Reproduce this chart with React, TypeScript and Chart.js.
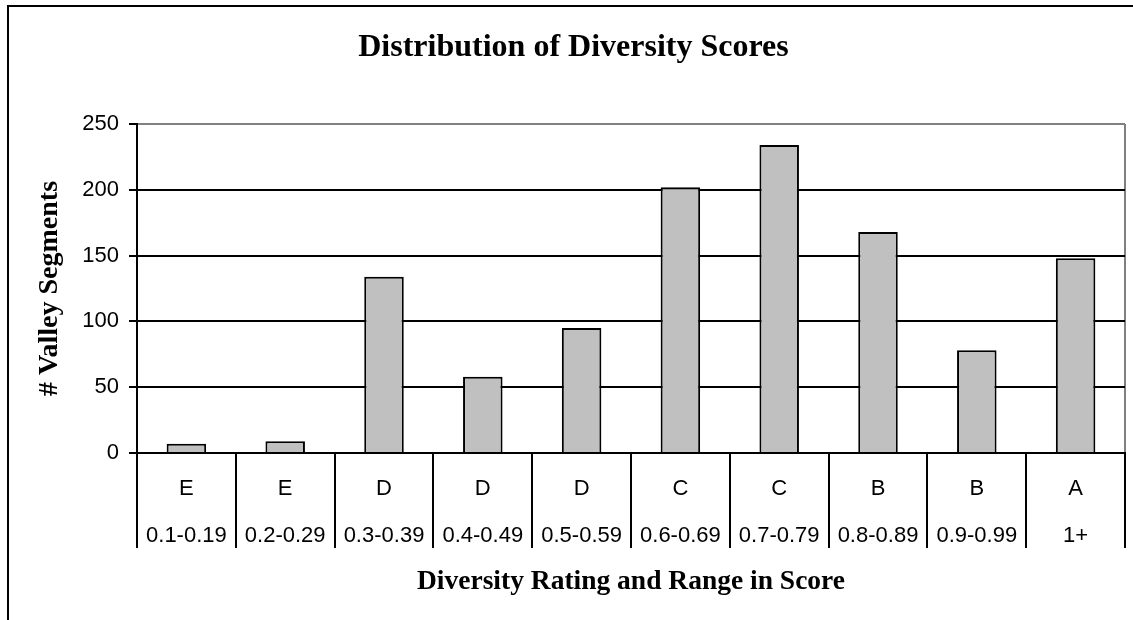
import React, { useEffect, useRef } from 'react';
import { Chart, registerables } from 'chart.js';

Chart.register(...registerables);

const grades = ['E', 'E', 'D', 'D', 'D', 'C', 'C', 'B', 'B', 'A'];
const ranges = ['0.1-0.19', '0.2-0.29', '0.3-0.39', '0.4-0.49', '0.5-0.59', '0.6-0.69', '0.7-0.79', '0.8-0.89', '0.9-0.99', '1+'];
const segments = [7, 9, 134, 58, 95, 202, 234, 168, 78, 148];
const yMin = 0;
const yMax = 250;
const yStep = 50;

const chartTitle = 'Distribution of Diversity Scores';
const xTitle = 'Diversity Rating and Range in Score';
const yTitle = '# Valley Segments';

const SANS = '"Liberation Sans", Arial, sans-serif';
const SERIF = '"Liberation Serif", "Times New Roman", serif';

const framePlugin = {
  id: 'frame',
  beforeDraw(chart: any) {
    const ctx = chart.ctx;
    ctx.save();
    ctx.fillStyle = '#ffffff';
    ctx.fillRect(0, 0, chart.width, chart.height);
    ctx.strokeStyle = '#000000';
    ctx.lineWidth = 2;
    ctx.strokeRect(8, 6, 1400, 900);
    ctx.restore();
  },
};

export default function App() {
  const ref = useRef<HTMLCanvasElement | null>(null);

  useEffect(() => {
    if (!ref.current) return;
    const labels = grades.map((g, i) => [g, ranges[i]]);
    const chart = new Chart(ref.current, {
      type: 'bar',
      data: {
        labels,
        datasets: [
          {
            data: segments,
            backgroundColor: '#C0C0C0',
            borderColor: '#000000',
            borderWidth: 2,
            barPercentage: 0.4,
            categoryPercentage: 1,
          },
        ],
      },
      plugins: [framePlugin],
      options: {
        responsive: false,
        animation: false,
        layout: { padding: { left: 22, right: 8, top: 0, bottom: 0 } },
        plugins: {
          legend: { display: false },
          tooltip: { enabled: false },
          title: {
            display: true,
            text: chartTitle,
            color: '#000',
            font: { family: SERIF, size: 32, weight: 'bold' },
            padding: { top: 29, bottom: 56.6 },
          },
        },
        scales: {
          x: {
            type: 'category',
            grid: {
              offset: true,
              drawOnChartArea: true,
              color: (c: any) => (c.type === 'scale' ? '#808080' : 'rgba(0,0,0,0)'),
              tickColor: '#000',
              tickLength: 95,
              lineWidth: 2,
            },
            border: { display: true, color: '#000', width: 2 },
            ticks: {
              autoSkip: false,
              maxRotation: 0,
              minRotation: 0,
              color: '#000',
              font: { family: SANS, size: 22, lineHeight: 2.16 },
              padding: -83,
            },
            title: {
              display: true,
              text: xTitle,
              color: '#000',
              font: { family: SERIF, size: 27.5, weight: 'bold' },
              padding: { top: 0, bottom: 22 },
            },
            afterFit: (s: any) => {
              s.height = 167;
            },
          },
          y: {
            min: yMin,
            max: yMax,
            ticks: {
              stepSize: yStep,
              color: '#000',
              font: { family: SANS, size: 22 },
              padding: 10,
            },
            grid: {
              color: (c: any) => (c.tick && c.tick.value === yMax ? '#808080' : '#000'),
              tickColor: '#000',
              tickLength: 8,
              lineWidth: 2,
            },
            border: { display: true, color: '#000', width: 2 },
            title: {
              display: true,
              text: yTitle,
              color: '#000',
              font: { family: SERIF, size: 28, weight: 'bold' },
              padding: { top: 11, bottom: 0 },
            },
            afterFit: (s: any) => {
              s.width = 115;
            },
          },
        },
      },
    } as any);
    return () => chart.destroy();
  }, []);

  return (
    <div style={{ position: 'absolute', left: 0, top: 0, width: 1133, height: 620 }}>
      <canvas ref={ref} width={1133} height={620} style={{ display: 'block' }} />
    </div>
  );
}
